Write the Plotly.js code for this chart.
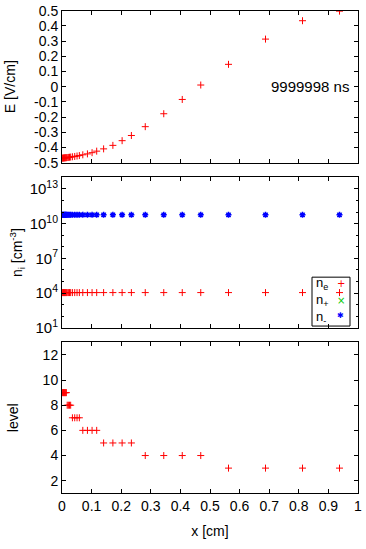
<!DOCTYPE html>
<html>
<head>
<meta charset="utf-8">
<script src="https://cdn.plot.ly/plotly-3.0.1.min.js"></script>
<style>html,body{margin:0;padding:0;background:#fff}#plot{width:366px;height:549px}</style>
</head>
<body>
<div id="plot"></div>
<script>
// cell-centre positions [cm]
var xPos = [0.000977, 0.00293, 0.00488, 0.00684, 0.00879, 0.0107, 0.0127, 0.0146,
            0.0176, 0.0215, 0.0254, 0.0293,
            0.0352, 0.0430, 0.0508, 0.0586,
            0.0703, 0.0859, 0.1016, 0.1172,
            0.1406, 0.1719, 0.2031, 0.2344,
            0.2813, 0.3438, 0.4063, 0.4688,
            0.5625, 0.6875, 0.8125, 0.9375];
// electric field [V/cm]
var eField = [-0.470, -0.470, -0.469, -0.469, -0.468, -0.468, -0.467, -0.467,
              -0.466, -0.465, -0.464, -0.463,
              -0.461, -0.459, -0.456, -0.453,
              -0.448, -0.442, -0.434, -0.424,
              -0.409, -0.386, -0.355, -0.321,
              -0.263, -0.178, -0.084, 0.011,
              0.147, 0.313, 0.434, 0.497];
// densities [cm^-3]
var nE = [1.1e4,1.1e4,1.1e4,1.1e4,1.1e4,1.1e4,1.1e4,1.1e4,1.1e4,1.1e4,1.1e4,1.1e4,1.1e4,1.1e4,1.1e4,1.1e4,
          1.1e4,1.1e4,1.1e4,1.1e4,1.1e4,1.1e4,1.1e4,1.1e4,1.1e4,1.1e4,1.1e4,1.1e4,1.1e4,1.1e4,1.1e4,1.1e4];
var nPlus = [5.7e10,5.7e10,5.7e10,5.7e10,5.7e10,5.7e10,5.7e10,5.7e10,5.7e10,5.7e10,5.7e10,5.7e10,5.7e10,5.7e10,5.7e10,5.7e10,
             5.7e10,5.7e10,5.7e10,5.7e10,5.7e10,5.7e10,5.7e10,5.7e10,5.7e10,5.7e10,5.7e10,5.7e10,5.7e10,5.7e10,5.7e10,5.7e10];
var nMinus = [5.7e10,5.7e10,5.7e10,5.7e10,5.7e10,5.7e10,5.7e10,5.7e10,5.7e10,5.7e10,5.7e10,5.7e10,5.7e10,5.7e10,5.7e10,5.7e10,
              5.7e10,5.7e10,5.7e10,5.7e10,5.7e10,5.7e10,5.7e10,5.7e10,5.7e10,5.7e10,5.7e10,5.7e10,5.7e10,5.7e10,5.7e10,5.7e10];
// refinement level
var level = [9,9,9,9,9,9,9,9, 8,8,8,8, 7,7,7,7, 6,6,6,6, 5,5,5,5, 4,4,4,4, 3,3,3,3];
var xTicks = [0,0.1,0.2,0.3,0.4,0.5,0.6,0.7,0.8,0.9,1];
var xTickText = ['0','0.1','0.2','0.3','0.4','0.5','0.6','0.7','0.8','0.9','1'];
var eTicks = [-0.5,-0.4,-0.3,-0.2,-0.1,0,0.1,0.2,0.3,0.4,0.5];
var eTickText = ['-0.5','-0.4','-0.3','-0.2','-0.1','0','0.1','0.2','0.3','0.4','0.5'];
var nTicks = [1e1, 1e4, 1e7, 1e10, 1e13];
var nTickText = ['10<sup>1</sup>','10<sup>4</sup>','10<sup>7</sup>','10<sup>10</sup>','10<sup>13</sup>'];
var levelTicks = [2,4,6,8,10,12];
var timeLabel = '9999998 ns';
var seriesNames = ['n<sub>e</sub>', 'n<sub>+</sub>', 'n<sub>-</sub>'];
var seriesGlyphs = ['+', '×', '✱'];

var FONT = '"Liberation Sans", Arial, sans-serif';
var FS = 14;
var red = '#ff0000', green = '#00cc00', blue = '#0000ff';
var seriesColors = [red, green, blue];

var traces = [
  {x: xPos, y: eField, xaxis:'x', yaxis:'y', mode:'markers', type:'scatter', showlegend:false,
   marker:{symbol:'cross-thin-open', size:5, color:red, line:{color:red, width:1}}},
  {x: xPos, y: nE, xaxis:'x2', yaxis:'y2', mode:'markers', type:'scatter', name:seriesNames[0], showlegend:false,
   marker:{symbol:'cross-thin-open', size:5, color:red, line:{color:red, width:1}}},
  {x: xPos, y: nPlus, xaxis:'x2', yaxis:'y2', mode:'markers', type:'scatter', name:seriesNames[1], showlegend:false,
   marker:{symbol:'x-thin-open', size:4, color:green, line:{color:green, width:1}}},
  {x: xPos, y: nMinus, xaxis:'x2', yaxis:'y2', mode:'markers', type:'scatter', name:seriesNames[2], showlegend:false,
   marker:{symbol:'asterisk-open', size:5, color:blue, line:{color:blue, width:1.5}}},
  {x: xPos, y: level, xaxis:'x3', yaxis:'y3', mode:'markers', type:'scatter', showlegend:false,
   marker:{symbol:'cross-thin-open', size:5, color:red, line:{color:red, width:1}}}
];

function xax(anchor, showLabels) {
  return {anchor: anchor, range:[0,1], tickvals:xTicks, ticktext:xTickText, showticklabels:showLabels,
    ticks:'inside', ticklen:4, tickcolor:'#000', showline:true, linecolor:'#000', linewidth:1, mirror:'allticks',
    showgrid:false, zeroline:false, tickfont:{family:FONT, size:FS, color:'#000'}};
}
function yax(anchor, dom) {
  return {anchor: anchor, domain: dom, ticks:'inside', ticklen:4, tickcolor:'#000', showline:true, linecolor:'#000',
    linewidth:1, mirror:'allticks', showgrid:false, zeroline:false, tickfont:{family:FONT, size:FS, color:'#000'}};
}

var xa1 = xax('y', false), xa2 = xax('y2', false), xa3 = xax('y3', true);
xa3.title = {text:'x [cm]', font:{family:FONT, size:FS, color:'#000'}, standoff:13};

var ya1 = yax('x', [0.6845, 0.9986]);
ya1.range = [-0.5, 0.5]; ya1.tickvals = eTicks; ya1.ticktext = eTickText;
ya1.title = {text:'E [V/cm]', font:{family:FONT, size:FS, color:'#000'}, standoff:15};

var ya2 = yax('x2', [0.3434, 0.6543]);
ya2.type = 'log'; ya2.range = [1, 14]; ya2.tickvals = nTicks; ya2.ticktext = nTickText;
ya2.tickfont = {family:FONT, size:15, color:'#000'};
ya2.minor = {tickvals:[1e2,1e3,1e5,1e6,1e8,1e9,1e11,1e12], ticklen:2, tickcolor:'#000', ticks:'inside'};
ya2.title = {text:'n<sub>i</sub> [cm<sup>-3</sup>]', font:{family:FONT, size:FS, color:'#000'}, standoff:3};

var ya3 = yax('x3', [0.0015, 0.3134]);
ya3.range = [1, 13]; ya3.tickvals = levelTicks;
ya3.title = {text:'level', font:{family:FONT, size:FS, color:'#000'}, standoff:20};

// legend box (gnuplot style: label left, symbol right, transparent box)
var legendY = [0.4339, 0.4008, 0.3684];
var annotations = [{xref:'x', yref:'y', x:0.975, y:0, text:timeLabel, showarrow:false, xanchor:'right', yanchor:'middle',
    font:{family:FONT, size:15, color:'#000'}},
  {xref:'paper', yref:'paper', x:0.855, y:0.4008, text:seriesNames.join('<br>'), showarrow:false, align:'left',
    xanchor:'left', yanchor:'middle', font:{family:FONT, size:13, color:'#000'}, borderpad:0}];
for (var i = 0; i < seriesNames.length; i++) {
  annotations.push({xref:'paper', yref:'paper', x:0.9416, y:legendY[i], text:seriesGlyphs[i], showarrow:false,
    xanchor:'center', yanchor:'middle', font:{family:'DejaVu Sans', size:(i===2?8:10), color:seriesColors[i]}, borderpad:0});
}

var layout = {
  width:366, height:549, margin:{l:62, r:8, t:10, b:55},
  paper_bgcolor:'#fff', plot_bgcolor:'#fff', font:{family:FONT, size:FS, color:'#000'},
  xaxis: xa1, xaxis2: xa2, xaxis3: xa3, yaxis: ya1, yaxis2: ya2, yaxis3: ya3,
  showlegend:false,
  shapes:[{type:'rect', xref:'paper', yref:'paper', x0:0.8446, x1:0.973, y0:0.347, y1:0.448,
    line:{color:'#000', width:1}, fillcolor:'rgba(0,0,0,0)'}],
  annotations: annotations
};

Plotly.newPlot('plot', traces, layout, {displayModeBar:false, staticPlot:true});
</script>
</body>
</html>
